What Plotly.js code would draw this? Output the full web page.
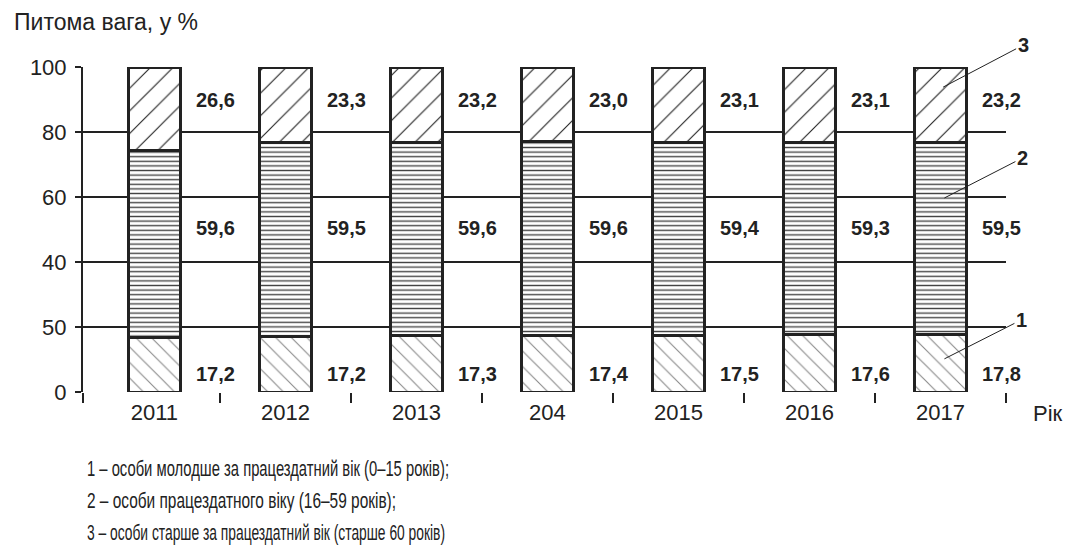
<!DOCTYPE html>
<html>
<head>
<meta charset="utf-8">
<script src="https://cdn.plot.ly/plotly-3.0.1.min.js"></script>
<style>html,body{margin:0;padding:0;background:#fff;}#chart{width:1067px;height:546px;}</style>
</head>
<body>
<div id="chart"></div>
<script>
// ---- data ----
const years = ['2011', '2012', '2013', '204', '2015', '2016', '2017'];
const young = [17.2, 17.2, 17.3, 17.4, 17.5, 17.6, 17.8];    // 1
const working = [59.6, 59.5, 59.6, 59.6, 59.4, 59.3, 59.5];  // 2
const old = [26.6, 23.3, 23.2, 23.0, 23.1, 23.1, 23.2];      // 3
const yTickValues = [0, 20, 40, 60, 80, 100];
const yTickLabels = ['0', '50', '40', '60', '80', '100'];
const seriesNames = ['1', '2', '3'];
const footnotes = [
  '1 – особи молодше за працездатний вік (0–15 років);',
  '2 – особи працездатного віку (16–59 років);',
  '3 – особи старше за працездатний вік (старше 60 років)'
];
const yTitle = 'Питома вага, у %';
const xTitle = 'Рік';

// ---- styling ----
const ink = '#222';
const fontFam = '"Liberation Sans", Arial, sans-serif';
const outline = {color: ink, width: 3};
const barW = 0.4;
const footnoteWidths = [362, 309, 358];   // rendered widths of the condensed footnote lines (px)

const traces = [
  {type: 'bar', x: years, y: young, name: seriesNames[0], width: barW,
   marker: {color: '#fff', line: outline,
            pattern: {shape: '\\', fgcolor: '#8a8a8a', bgcolor: '#fff', size: 11, solidity: 0.1}}},
  {type: 'bar', x: years, y: working, name: seriesNames[1], width: barW,
   marker: {color: '#fff', line: outline,
            pattern: {shape: '-', fgcolor: '#444', bgcolor: '#fff', size: 4.6, solidity: 0.3}}},
  {type: 'bar', x: years, y: old, name: seriesNames[2], width: barW,
   marker: {color: '#fff', line: outline,
            pattern: {shape: '/', fgcolor: ink, bgcolor: '#fff', size: 16, solidity: 0.07}}},
  {type: 'scatter', x: [0], y: [0], xaxis: 'x2', yaxis: 'y', mode: 'none', hoverinfo: 'skip', showlegend: false}
];

const fmt = v => v.toFixed(1).replace('.', ',');
const labelLevels = [5.5, 50.5, 89.8];
const annotations = [];
[young, working, old].forEach((arr, s) => {
  arr.forEach((v, i) => {
    annotations.push({x: i + 0.466, y: labelLevels[s], xref: 'x', yref: 'y', text: fmt(v),
      showarrow: false, font: {family: fontFam, size: 20, color: ink, weight: 'bold'}});
  });
});
// leader labels 1,2,3
const leaders = [
  {t: '3', x: 6.02, y: 93.8, ax: 80, ay: -42},
  {t: '2', x: 6.03, y: 59.7, ax: 78, ay: -40},
  {t: '1', x: 6.03, y: 10.2, ax: 77, ay: -39}
];
leaders.forEach(l => annotations.push({x: l.x, y: l.y, xref: 'x', yref: 'y', text: l.t,
  showarrow: true, arrowhead: 0, arrowwidth: 1, arrowcolor: ink, ax: l.ax, ay: l.ay,
  font: {family: fontFam, size: 20, color: ink, weight: 'bold'}}));
// axis titles
annotations.push({xref: 'paper', yref: 'paper', x: -0.077, y: 1.138, xanchor: 'left', yanchor: 'middle',
  text: yTitle, showarrow: false, font: {family: fontFam, size: 23, color: ink}});
annotations.push({xref: 'paper', yref: 'paper', x: 1.046, y: -0.065, xanchor: 'center', yanchor: 'middle',
  text: xTitle, showarrow: false, font: {family: fontFam, size: 22, color: ink}});
footnotes.forEach((t, k) => annotations.push({xref: 'paper', yref: 'paper', x: 0.002, y: -0.234 - k * 0.0985,
  xanchor: 'left', yanchor: 'middle', align: 'left', text: t, showarrow: false,
  font: {family: fontFam, size: 22, color: ink}}));

const xRange = [-0.545, 6.5];
const boundaryTicks = [xRange[0]].concat(years.map((_, i) => i + 0.5));

const layout = {
  width: 1067, height: 546,
  margin: {l: 83, r: 61, t: 67, b: 154, pad: 0},
  paper_bgcolor: '#fff', plot_bgcolor: '#fff',
  barmode: 'stack', barnorm: 'percent',
  showlegend: false,
  font: {family: fontFam, size: 22, color: ink},
  xaxis: {type: 'category', range: xRange, ticks: '', showgrid: false, zeroline: false,
          showline: false, ticklabelstandoff: 5, tickfont: {family: fontFam, size: 22, color: ink}},
  xaxis2: {type: 'linear', overlaying: 'x', anchor: 'y', side: 'bottom', range: xRange,
           tickmode: 'array', tickvals: boundaryTicks, showticklabels: false,
           ticks: 'outside', ticklen: 10, tickwidth: 2, tickcolor: ink,
           showgrid: false, zeroline: false, showline: false},
  yaxis: {range: [0, 100], tickmode: 'array', tickvals: yTickValues, ticktext: yTickLabels,
          ticks: 'outside', ticklen: 6, tickwidth: 2, tickcolor: ink,
          showgrid: true, gridcolor: ink, gridwidth: 1.6,
          showline: true, linecolor: ink, linewidth: 2, zeroline: false,
          ticklabelstandoff: 4, tickfont: {family: fontFam, size: 22, color: ink}},
  annotations: annotations
};

Plotly.newPlot('chart', traces, layout, {staticPlot: true, displayModeBar: false}).then(gd => {
  // condense the footnote lines horizontally, as in the reference typeface
  gd.querySelectorAll('text.annotation-text').forEach(el => {
    const k = footnotes.indexOf(el.textContent);
    if (k >= 0) {
      el.setAttribute('textLength', footnoteWidths[k]);
      el.setAttribute('lengthAdjust', 'spacingAndGlyphs');
    }
  });
});
</script>
</body>
</html>
